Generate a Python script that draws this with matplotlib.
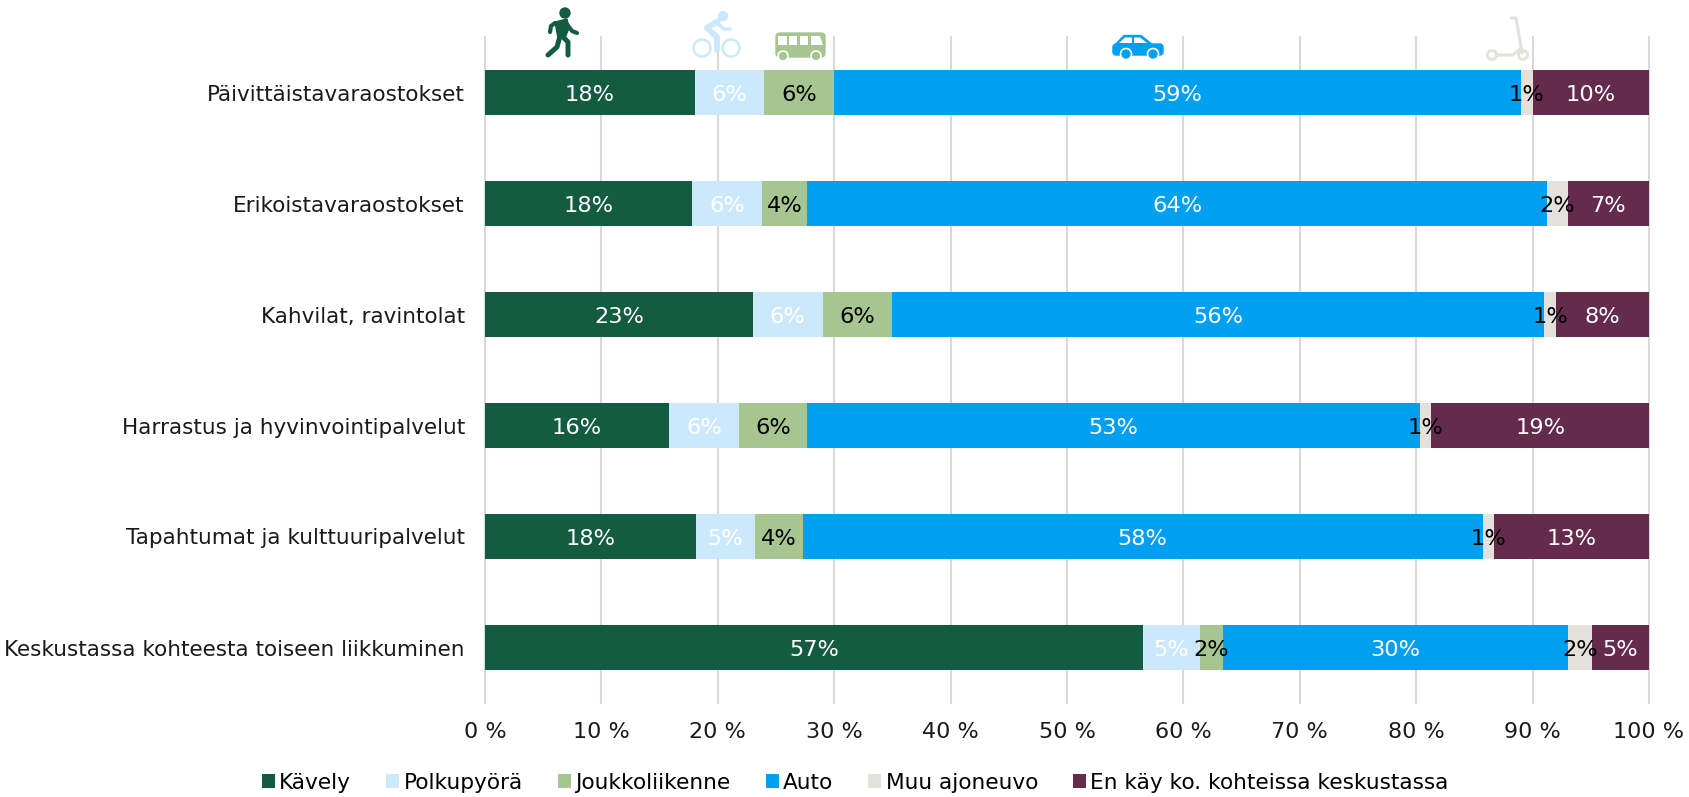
import matplotlib
matplotlib.use('Agg')
import matplotlib.pyplot as plt
from matplotlib.patches import Circle, FancyBboxPatch, Polygon

# Data
kategoriat = ['Päivittäistavaraostokset', 'Erikoistavaraostokset', 'Kahvilat, ravintolat',
              'Harrastus ja hyvinvointipalvelut', 'Tapahtumat ja kulttuuripalvelut',
              'Keskustassa kohteesta toiseen liikkuminen']
kavely = [18.0, 17.8, 23.0, 15.8, 18.1, 56.51]
polkupyora = [6.0, 6.0, 6.0, 6.0, 5.1, 4.9]
joukkoliikenne = [6.0, 3.9, 6.0, 5.9, 4.1, 2.0]
auto = [59.0, 63.5, 56.0, 52.6, 58.4, 29.6]
muu = [1.0, 1.8, 1.0, 1.0, 1.0, 2.1]
ei_kay = [10.0, 7.0, 8.0, 18.7, 13.3, 4.89]

sarjat = ['Kävely', 'Polkupyörä', 'Joukkoliikenne', 'Auto', 'Muu ajoneuvo',
          'En käy ko. kohteissa keskustassa']
arvot = [kavely, polkupyora, joukkoliikenne, auto, muu, ei_kay]
varit = ['#145C41', '#CCE9FC', '#A6C591', '#009FF0', '#E3E1DA', '#642B4C']
tekstivarit = ['white', 'white', 'black', 'white', 'black', 'white']
x_ticks = list(range(0, 101, 10))

W, H = 1690, 797
plt.rcParams['font.family'] = ['DejaVu Sans']

fig = plt.figure(figsize=(W / 100, H / 100), dpi=100)
ax = fig.add_axes([485 / W, 1 - 703 / H, 1164 / W, 666 / H])

# Pinotut palkit
vasen = [0] * len(kategoriat)
palkit = []
for nimi, data, vari, tv in zip(sarjat, arvot, varit, tekstivarit):
    p = ax.barh(kategoriat, data, left=vasen, height=0.4, color=vari, label=nimi, zorder=3)
    tekstit = ax.bar_label(p, labels=[f'{v:.0f}%' for v in data], label_type='center',
                           color=tv, fontsize=16.2, zorder=4)
    for t in tekstit:
        t.xyann = (0, -1.5)
    palkit.append(p)
    vasen = [a + b for a, b in zip(vasen, data)]

ax.set_xlim(0, 100)
ax.set_ylim(5.5, -0.5)
ax.set_xticks(x_ticks)
ax.set_xticklabels([f'{t} %' for t in x_ticks], fontsize=16, color='#1a1a1a')
ax.tick_params(axis='x', length=0, pad=14)
ax.tick_params(axis='y', length=0, pad=14.5, labelsize=15.5, labelcolor='#1a1a1a')
ax.grid(True, axis='x', color='#D9D9D9', linewidth=1.5, zorder=0)
for l in ax.get_xgridlines():
    l.set_clip_on(False)
for s in ax.spines.values():
    s.set_visible(False)

fig.legend(handles=palkit, loc='lower left', bbox_to_anchor=(262 / W, 4 / H), ncol=6,
           frameon=False, fontsize=15.6, handlelength=0.6, handleheight=0.6,
           handletextpad=0.2, columnspacing=1.62, borderpad=0, borderaxespad=0)

# Ikonit palkkien yläpuolella, koordinaatit pikseleinä
ik = fig.add_axes([0, 0, 1, 1], facecolor='none')
ik.set_xlim(0, W)
ik.set_ylim(H, 0)
ik.axis('off')

# kävelijä
g = varit[0]
ik.add_patch(Circle((565, 13), 5, color=g))
ik.add_patch(Polygon([[555, 22], [567, 19], [569, 28], [565, 38], [558, 38]], fc=g, ec=g, lw=1))
for xs, ys, lw in [([560, 557, 548], [36, 47, 55], 3.6), ([562, 568, 568], [36, 42, 55], 3.6),
                   ([555, 551, 550], [23, 26, 32], 3), ([566, 572, 577], [23, 31, 33], 3)]:
    ik.plot(xs, ys, color=g, lw=lw, solid_capstyle='round', solid_joinstyle='round')

# pyörä
b = varit[1]
for cx in [702, 731]:
    ik.add_patch(Circle((cx, 48), 8.5, fill=False, ec=b, lw=1.8))
ik.add_patch(Circle((723, 16), 4.5, color=b))
ik.plot([718, 707, 717, 717], [21, 28, 37, 50], color=b, lw=4.2,
        solid_capstyle='round', solid_joinstyle='round')
ik.plot([718, 724, 730], [24, 29, 29], color=b, lw=2.6, solid_capstyle='round')

# bussi
v = varit[2]
ik.add_patch(FancyBboxPatch((776, 33), 49, 24, boxstyle='round,pad=0,rounding_size=4', fc=v, ec=v, lw=1))
for x0, x1 in [(778, 787), (789, 797), (800, 808)]:
    ik.add_patch(Polygon([[x0, 36], [x1, 36], [x1, 45], [x0, 45]], fc='white', ec='none'))
ik.add_patch(Polygon([[811, 36], [820, 36], [823, 45], [811, 45]], fc='white', ec='none'))
for cx in [783, 816]:
    ik.add_patch(Circle((cx, 56), 5, fc=v, ec='white', lw=1.2))

# auto
a = varit[3]
ik.add_patch(FancyBboxPatch((1113, 44), 50, 11, boxstyle='round,pad=0,rounding_size=3', fc=a, ec=a, lw=1))
ik.add_patch(Polygon([[1114, 46], [1124, 35.5], [1141, 35.5], [1153, 45]], fc=a, ec=a))
ik.add_patch(Polygon([[1119, 43], [1125, 37.5], [1132, 37.5], [1132, 43]], fc='white', ec='none'))
ik.add_patch(Polygon([[1134, 37.5], [1140, 37.5], [1147, 43], [1134, 43]], fc='white', ec='none'))
for cx in [1126, 1153]:
    ik.add_patch(Circle((cx, 54), 5.5, fc=a, ec='white', lw=1.2))

# potkulauta
s = varit[4]
ik.plot([1511, 1516, 1522], [18, 18, 53], color=s, lw=2.2, solid_capstyle='round')
ik.plot([1496, 1513, 1521], [55, 55, 48], color=s, lw=2.2)
for cx in [1492, 1523]:
    ik.add_patch(Circle((cx, 55), 4.5, fill=False, ec=s, lw=2))

fig.savefig('out.png', dpi=100)
